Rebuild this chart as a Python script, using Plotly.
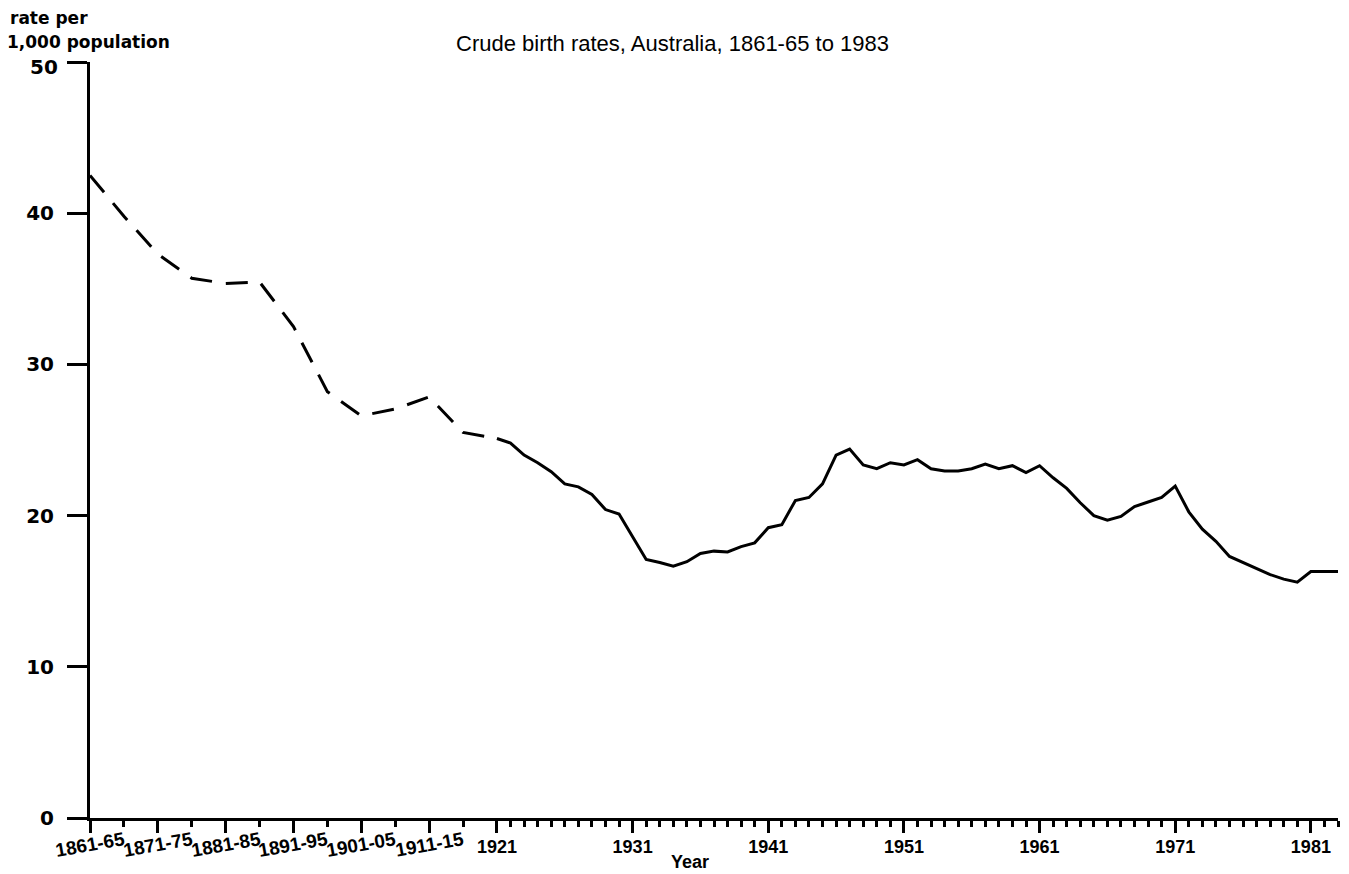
import plotly.graph_objects as go

# ---- data ----
periods = ["1861-65", "1866-70", "1871-75", "1876-80", "1881-85", "1886-90",
           "1891-95", "1896-00", "1901-05", "1906-10", "1911-15", "1916-20"]
period_rates = [42.5, 39.8, 37.3, 35.7, 35.35, 35.45, 32.5, 28.2, 26.6, 27.05, 27.85, 25.5]

years = list(range(1921, 1984))
year_rates = [25.1, 24.8, 24.0, 23.5, 22.9, 22.1, 21.9, 21.4, 20.4, 20.1,   # 1921-30
              18.6, 17.1, 16.9, 16.65, 16.95, 17.5, 17.65, 17.6, 17.95, 18.2,  # 1931-40
              19.2, 19.4, 21.0, 21.2, 22.1, 24.0, 24.4, 23.35, 23.1, 23.5,  # 1941-50
              23.35, 23.7, 23.1, 22.95, 22.95, 23.1, 23.4, 23.1, 23.3, 22.85,  # 1951-60
              23.3, 22.5, 21.8, 20.85, 20.0, 19.7, 19.95, 20.6, 20.9, 21.2,  # 1961-70
              21.95, 20.25, 19.1, 18.3, 17.3, 16.9, 16.45, 16.1, 15.8, 15.6,  # 1971-80
              16.3, 16.3, 16.3]  # 1981-83

labelled_periods = ["1861-65", "1871-75", "1881-85", "1891-95", "1901-05", "1911-15"]
labelled_years = [1921, 1931, 1941, 1951, 1961, 1971, 1981]
y_ticks = [0, 10, 20, 30, 40, 50]

title_text = "Crude birth rates, Australia, 1861-65 to 1983"
x_title = "Year"
y_title_lines = ["rate per", "1,000 population"]

# ---- broken time scale: each 5-year period occupies 2.5 annual units ----
PERIOD_STEP = 2.5


def pos_period(label):
    return periods.index(label) * PERIOD_STEP


def pos_year(y):
    return len(periods) * PERIOD_STEP + (y - years[0])


x_periods = [pos_period(p) for p in periods] + [pos_year(years[0])]
y_periods = period_rates + [year_rates[0]]
x_years = [pos_year(y) for y in years]

major_vals = [pos_period(p) for p in labelled_periods] + [pos_year(y) for y in labelled_years]
major_text = [""] * len(labelled_periods) + [str(y) for y in labelled_years]
minor_vals = [pos_period(p) for p in periods if p not in labelled_periods] + \
             [pos_year(y) for y in years if y not in labelled_years]

# the top label (50) sits a little below its tick in the original, drawn separately
y_top = y_ticks[-1]
y_ticktext = [str(v) for v in y_ticks[:-1]] + [""]

fig = go.Figure()
fig.add_trace(go.Scatter(x=x_periods, y=y_periods, mode="lines",
                         line=dict(color="black", width=3, dash="22px,14px"),
                         hoverinfo="skip", showlegend=False))
fig.add_trace(go.Scatter(x=x_years, y=year_rates, mode="lines",
                         line=dict(color="black", width=3),
                         hoverinfo="skip", showlegend=False))

# page body has an 8px margin; plot area wanted at x 90..1338, y 62..818 (page pixels)
OFF = 8
PL, PR, PT, PB = 90, 1338, 62, 818
W, H = 1349 - OFF, 874 - OFF
L, T = PL - OFF, PT - OFF
R = W + OFF - PR
B = H + OFF - PB
pw, ph = PR - PL, PB - PT


def px(xp):
    return (xp - PL) / pw


def py(yp):
    return (PB - yp) / ph


ytick_font = dict(family="DejaVu Sans", size=20, color="black", weight="bold")

fig.update_layout(
    width=W, height=H,
    margin=dict(l=L, r=R, t=T, b=B, pad=0),
    paper_bgcolor="white", plot_bgcolor="white",
    xaxis=dict(range=[0, pos_year(years[-1])], showgrid=False, zeroline=False,
               showline=True, linecolor="black", linewidth=3,
               tickmode="array", tickvals=major_vals, ticktext=major_text,
               ticks="outside", ticklen=12, tickwidth=3, tickcolor="black",
               tickfont=dict(family="Liberation Sans", size=18, color="black", weight="bold"),
               ticklabelstandoff=-2,
               minor=dict(tickmode="array", tickvals=minor_vals, ticks="outside",
                          ticklen=6, tickwidth=3, tickcolor="black")),
    yaxis=dict(range=[0, 50], showgrid=False, zeroline=False,
               showline=True, linecolor="black", linewidth=3,
               tickmode="array", tickvals=y_ticks, ticktext=y_ticktext,
               ticks="outside", ticklen=20, tickwidth=3, tickcolor="black",
               tickfont=ytick_font,
               ticklabelstandoff=9),
)

annotations = []
for p in labelled_periods:
    annotations.append(dict(x=pos_period(p), xref="x", y=py(844), yref="paper",
                            text=p, showarrow=False, textangle=-10,
                            xanchor="center", yanchor="middle",
                            font=dict(family="Liberation Sans", size=19, color="black", weight="bold")))
annotations.append(dict(x=px(60), xref="paper", y=y_top, yref="y", yshift=-5,
                        text=str(y_top), showarrow=False, xanchor="right", yanchor="middle",
                        font=ytick_font))
annotations.append(dict(x=px(690), xref="paper", y=py(862), yref="paper", text=x_title,
                        showarrow=False, xanchor="center", yanchor="middle",
                        font=dict(family="Liberation Sans", size=18, color="black", weight="bold")))
annotations.append(dict(x=px(8), xref="paper", y=py(18), yref="paper", text=y_title_lines[0],
                        showarrow=False, xanchor="left", yanchor="middle",
                        font=dict(family="DejaVu Sans", size=17, color="black", weight="bold")))
annotations.append(dict(x=px(5), xref="paper", y=py(42), yref="paper", text=y_title_lines[1],
                        showarrow=False, xanchor="left", yanchor="middle",
                        font=dict(family="DejaVu Sans", size=17, color="black", weight="bold")))
annotations.append(dict(x=px(672), xref="paper", y=py(43), yref="paper", text=title_text,
                        showarrow=False, xanchor="center", yanchor="middle",
                        font=dict(family="Liberation Sans", size=22, color="black")))
fig.update_layout(annotations=annotations)

fig.write_html("out.html")
